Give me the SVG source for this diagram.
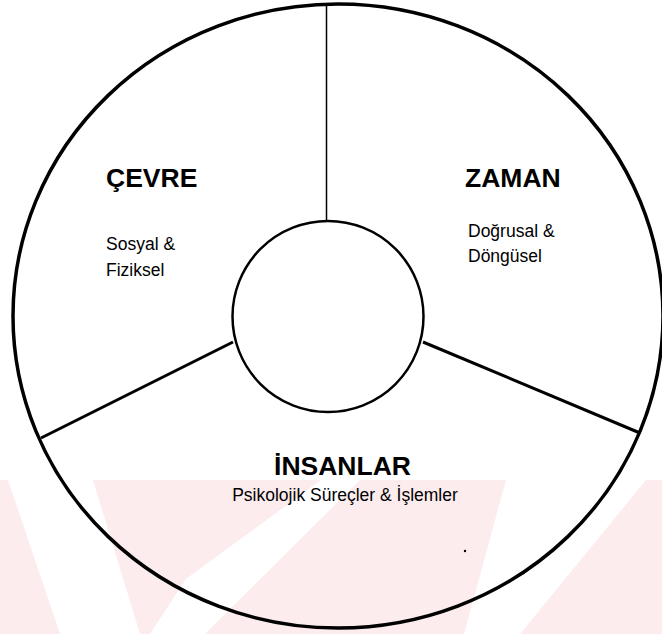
<svg xmlns="http://www.w3.org/2000/svg" width="662" height="634" viewBox="0 0 662 634">
<style>
.title{font-family:"Liberation Sans",Arial,sans-serif;font-weight:bold;font-size:26.5px;fill:#000}
.sub{font-family:"Liberation Sans",Arial,sans-serif;font-size:17.5px;fill:#000}
.ln{stroke:#000;fill:none}
.wm{fill:#fff}
</style>
<rect width="662" height="634" fill="#fff"/>
<g id="watermark">
<rect x="0" y="480" width="662" height="154" fill="#fdecee"/>
<polygon class="wm" points="8,480 93,480 140,634 60,634"/>
<polygon class="wm" points="186,579 321,480 360,480 205,634 150,634"/>
<polygon class="wm" points="506,480 646,480 520,634 464,634"/>
</g>
<g id="connectors">
<line class="ln" x1="326.5" y1="4" x2="326.5" y2="221" stroke-width="1.5"/>
<line class="ln" x1="233" y1="342" x2="41" y2="438" stroke-width="3"/>
<line class="ln" x1="423" y1="342" x2="640" y2="433" stroke-width="3"/>
</g>
<g id="outer">
<ellipse class="ln" cx="338" cy="316" rx="325" ry="312" stroke-width="3.5"/>
</g>
<g id="center">
<circle class="ln" cx="328" cy="316.5" r="95.5" stroke-width="2.5"/>
</g>
<g id="cevre">
<text class="title" x="106" y="187">ÇEVRE</text>
<text class="sub" x="106" y="250">Sosyal &amp;</text>
<text class="sub" x="106" y="276">Fiziksel</text>
</g>
<g id="zaman">
<text class="title" x="465" y="187">ZAMAN</text>
<text class="sub" x="468" y="237">Doğrusal &amp;</text>
<text class="sub" x="468" y="262">Döngüsel</text>
</g>
<g id="insanlar">
<text class="title" x="342.5" y="475" text-anchor="middle">İNSANLAR</text>
<text class="sub" x="345" y="501" text-anchor="middle">Psikolojik Süreçler &amp; İşlemler</text>
</g>
<circle cx="465" cy="551" r="1.2" fill="#000"/>
</svg>
